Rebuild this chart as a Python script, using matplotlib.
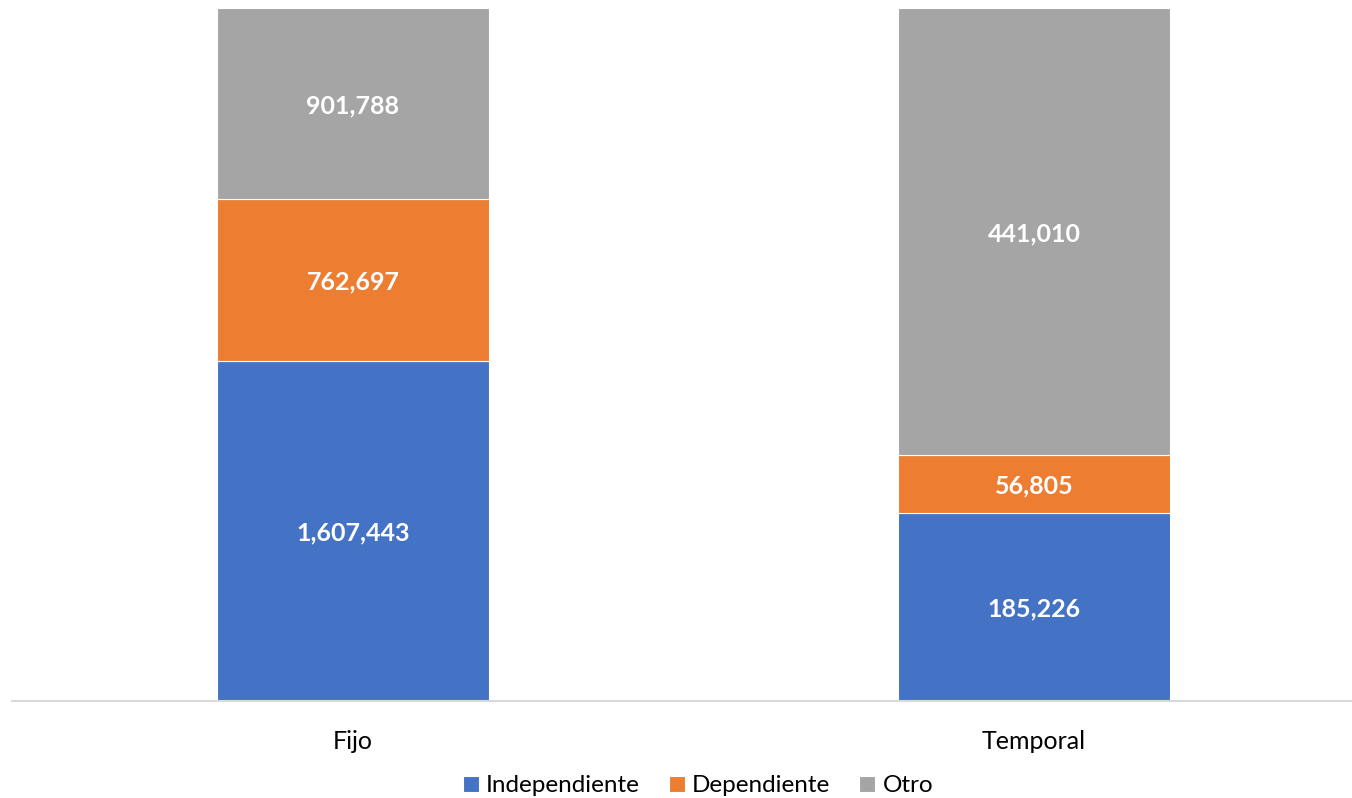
import matplotlib
matplotlib.use("Agg")
import matplotlib.pyplot as plt
import numpy as np

categories = ["Fijo", "Temporal"]
series_names = ["Independiente", "Dependiente", "Otro"]
independiente = [1607443, 185226]
dependiente = [762697, 56805]
otro = [901788, 441010]
colors = ["#4472C4", "#ED7D31", "#A5A5A5"]

plt.rcParams['font.family'] = ['Lato', 'DejaVu Sans']

W, H = 1352, 798
fig = plt.figure(figsize=(W / 100, H / 100), dpi=100)
ax = fig.add_axes([12 / W, (H - 701) / H, (W - 12) / W, 693 / H])

data = np.array([independiente, dependiente, otro], dtype=float)
totals = data.sum(axis=0)
pct = data / totals

x = np.arange(len(categories))
bottom = np.zeros(len(categories))
for i, name in enumerate(series_names):
    ax.bar(x, pct[i], width=0.4, bottom=bottom, color=colors[i], label=name,
           edgecolor="white", linewidth=0.8, zorder=2)
    for j in range(len(categories)):
        ax.text(x[j], bottom[j] + pct[i][j] / 2, f"{int(data[i][j]):,}",
                ha="center", va="center_baseline", color="white", fontsize=18,
                fontweight="bold", zorder=3)
    bottom += pct[i]

ax.set_ylim(0, 1)
ax.set_xlim(-0.5007, 1.467)
for s in ["top", "right", "left"]:
    ax.spines[s].set_visible(False)
ax.spines["bottom"].set_color("#D9D9D9")
ax.spines["bottom"].set_linewidth(1.5)
ax.set_yticks([])
ax.set_xticks(x)
ax.set_xticklabels(categories, fontsize=18, color="#000000")
ax.tick_params(axis="x", length=0, pad=21)

leg = fig.legend(loc="center", bbox_to_anchor=(698 / W, 1 - 786 / H), ncol=3,
                 frameon=False, fontsize=17.5, handlelength=0.65, handleheight=0.65,
                 handletextpad=0.3, columnspacing=1.2)

fig.savefig("out.png", dpi=100, facecolor="white")
